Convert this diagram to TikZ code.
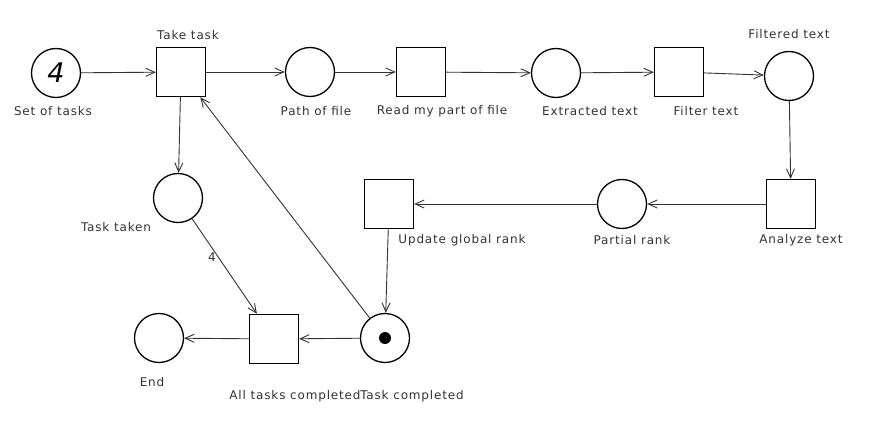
\documentclass[tikz,border=0pt]{standalone}
\usepackage{fontspec}
\setmainfont{DejaVu Sans}[LetterSpace=7]
\usetikzlibrary{arrows.meta}
\definecolor{txt}{HTML}{333333}
\definecolor{arc}{HTML}{333333}
\begin{document}
\begin{tikzpicture}[x=1pt,y=-1pt,
  place/.style={circle,draw=black,line width=1.3pt,minimum size=49pt,inner sep=0pt,fill=white},
  trans/.style={rectangle,draw=black,line width=1.3pt,minimum size=49pt,inner sep=0pt,fill=white},
  lbl/.style={text=txt,font=\fontsize{12}{14}\selectfont,inner sep=0pt},
  arc/.style={draw=arc,line width=0.9pt,-{Straight Barb[length=9pt,width=8pt,line width=0.9pt]}}]
\useasboundingbox (0,0) rectangle (872,425);
\fill[white] (0,0) rectangle (872,425);
% places
\node[place] (set) at (56,73) {\fontsize{27}{27}\selectfont\itshape 4};
\node[place] (path) at (310,72) {};
\node[place] (extr) at (556,73) {};
\node[place] (filt) at (789,76) {};
\node[place] (part) at (622,204) {};
\node[place] (taken) at (178,198) {};
\node[place] (done) at (385,338) {};
\node[place] (end) at (159,338) {};
\fill[black] (done) circle (6pt);
% transitions
\node[trans] (take) at (181,72) {};
\node[trans] (read) at (421,72) {};
\node[trans] (filter) at (679,72) {};
\node[trans] (anal) at (791,204) {};
\node[trans] (upd) at (389,204) {};
\node[trans] (all) at (274,339) {};
% labels
\node[lbl] (l1) at (53,111) {Set of tasks};
\node[lbl] (l2) at (188,35) {Take task};
\node[lbl] (l3) at (316,111) {Path of file};
\node[lbl] (l4) at (442,111) {Read my part of file};
\node[lbl] (l5) at (590,111) {Extracted text};
\node[lbl] (l6) at (706,111) {Filter text};
\node[lbl] (l7) at (789,34) {Filtered text};
\node[lbl] (l8) at (801,240) {Analyze text};
\node[lbl] (l9) at (632,240) {Partial rank};
\node[lbl] (l10) at (462,240) {Update global rank};
\node[lbl] (l11) at (116,227) {Task taken};
\node[lbl] (l12) at (295,396) {All tasks completed};
\node[lbl] (l13) at (412,396) {Task completed};
\node[lbl] (l14) at (152,382) {End};
\node[lbl] (w) at (212,257) {4};
% arcs
\draw[arc] (set) -- (take);
\draw[arc] (take) -- (path);
\draw[arc] (path) -- (read);
\draw[arc] (read) -- (extr);
\draw[arc] (extr) -- (filter);
\draw[arc] (filter) -- (filt);
\draw[arc] (filt) -- (anal);
\draw[arc] (anal) -- (part);
\draw[arc] (part) -- (upd);
\draw[arc] (upd) -- (done);
\draw[arc] (take) -- (taken);
\draw[arc] (taken) -- (all);
\draw[arc] (done) -- (all);
\draw[arc] (all) -- (end);
\draw[arc] (done) -- (take);
\end{tikzpicture}
\end{document}
